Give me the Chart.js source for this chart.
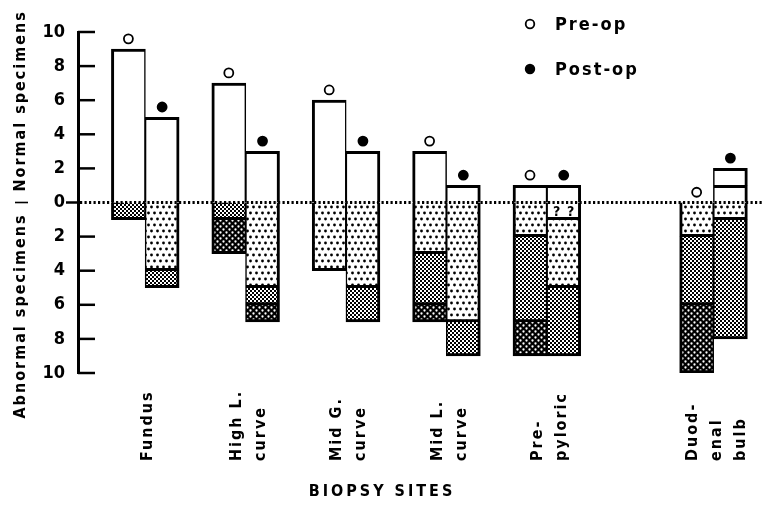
<!DOCTYPE html>
<html>
<head>
<meta charset="utf-8">
<script src="https://cdn.jsdelivr.net/npm/chart.js@4.4.1/dist/chart.umd.min.js"></script>
<style>
  html, body { margin: 0; padding: 0; background: #fff; }
  #wrap { width: 764px; height: 506px; position: relative; }
</style>
</head>
<body>
<div id="wrap"><canvas id="biopsyChart"></canvas></div>
<script>
// biopsy sites along the bottom, and where each pair of bars sits on the x scale
const siteLabels = [['Fundus'], ['High L.', 'curve'], ['Mid G.', 'curve'], ['Mid L.', 'curve'], ['Pre-', 'pyloric'], ['Duod-', 'enal', 'bulb']];
const sitePositions = [0, 1, 2, 3, 4, 5.66];

// number of specimens (of 10) per site, pre-op and post-op
const preNormal = [9, 7, 6, 3, 1, 0];
const postNormal = [5, 3, 3, 1, 1, 1];
const postNormalUpper = [0, 0, 0, 0, 0, 1];
const postUnknown = [0, 0, 0, 0, 1, 0];
const preUnknown = [0, 0, 0, 0, 0, 0];
const preDotted = [0, 0, 4, 3, 2, 2];
const postDotted = [4, 5, 5, 7, 4, 1];
const preFine = [1, 1, 0, 3, 5, 4];
const postFine = [1, 1, 2, 2, 4, 7];
const preCoarse = [0, 2, 0, 1, 2, 4];
const postCoarse = [0, 1, 0, 0, 0, 0];

const legendItems = ['Pre-op', 'Post-op'];

const HALF_BAR = 0.168;
const MARKER_GAP = 0.6;
const FONT = "'DejaVu Sans Condensed', 'DejaVu Sans', sans-serif";

function makePattern(kind) {
    const c = document.createElement('canvas');
    const g = c.getContext('2d');
    if (kind === 'dots') {
        c.width = 6; c.height = 12;
        g.fillStyle = '#fff'; g.fillRect(0, 0, 6, 12);
        g.fillStyle = '#000';
        [[1.5, 3], [4.5, 9]].forEach(([x, y]) => { g.beginPath(); g.arc(x, y, 1.4, 0, Math.PI * 2); g.fill(); });
    } else if (kind === 'fine') {
        c.width = 4; c.height = 4;
        g.fillStyle = '#fff'; g.fillRect(0, 0, 4, 4);
        g.fillStyle = '#000';
        g.fillRect(0, 0, 2, 2);
        g.fillRect(2, 2, 2, 2);
    } else {
        c.width = 6; c.height = 6;
        g.fillStyle = '#000'; g.fillRect(0, 0, 6, 6);
        g.fillStyle = '#fff';
        [[1.5, 1.5], [4.5, 4.5]].forEach(([x, y]) => { g.beginPath(); g.arc(x, y, 1.15, 0, Math.PI * 2); g.fill(); });
    }
    return g.createPattern(c, 'repeat');
}

function barPoints(preValues, postValues, sign) {
    const points = [];
    sitePositions.forEach((pos, i) => {
        if (preValues[i]) points.push({ x: pos - HALF_BAR, y: sign * preValues[i], side: 'pre' });
        if (postValues[i]) points.push({ x: pos + HALF_BAR, y: sign * postValues[i], side: 'post' });
    });
    return points;
}

function barBorder(ctx) {
    if (ctx.raw && ctx.raw.side === 'pre') return { top: 3, bottom: 3, left: 3, right: 1.5 };
    return { top: 3, bottom: 3, left: 1.5, right: 3 };
}

function barDataset(label, data, fill) {
    return {
        type: 'bar',
        label: label,
        data: data,
        backgroundColor: fill,
        borderColor: '#000',
        borderWidth: barBorder,
        borderSkipped: 'start',
        barThickness: 34,
        stack: 'bars'
    };
}

function markerDataset(label, data, fill, stack) {
    return {
        type: 'line',
        label: label,
        data: data,
        showLine: false,
        pointRadius: 4.5,
        pointBackgroundColor: fill,
        pointBorderColor: '#000',
        pointBorderWidth: 1.8,
        stack: stack
    };
}

const drawings = {
    id: 'drawings',
    afterDatasetsDraw(chart) {
        const ctx = chart.ctx;
        const y0 = chart.scales.y.getPixelForValue(0);
        ctx.save();
        // dotted zero line
        ctx.strokeStyle = '#000';
        ctx.lineWidth = 2.8;
        ctx.setLineDash([2.2, 2.3]);
        ctx.beginPath();
        ctx.moveTo(chart.chartArea.left + 2, y0);
        ctx.lineTo(chart.width, y0);
        ctx.stroke();
        ctx.setLineDash([]);
        // question marks in the unknown segment
        const meta = chart.getDatasetMeta(2);
        ctx.fillStyle = '#000';
        ctx.font = 'bold 14px ' + FONT;
        ctx.textAlign = 'center';
        ctx.textBaseline = 'middle';
        meta.data.forEach(bar => {
            const my = (bar.y + bar.base) / 2 + 1;
            ctx.fillText('?', bar.x - 7, my);
            ctx.fillText('?', bar.x + 7, my);
        });
        ctx.restore();
    },
    afterDraw(chart) {
        const ctx = chart.ctx;
        const yScale = chart.scales.y;
        const xScale = chart.scales.x;
        const left = chart.chartArea.left;
        const y0 = yScale.getPixelForValue(0);
        ctx.save();
        ctx.strokeStyle = '#000';
        ctx.fillStyle = '#000';
        // tick marks pointing into the plot
        ctx.lineWidth = 2.5;
        yScale.ticks.forEach(t => {
            const py = yScale.getPixelForValue(t.value);
            ctx.beginPath();
            if (t.value === 0) { ctx.moveTo(left - 12, py); ctx.lineTo(left, py); }
            else { ctx.moveTo(left, py); ctx.lineTo(left + 17, py); }
            ctx.stroke();
        });

        ctx.letterSpacing = '2px';
        // y axis title, with the bar between the halves
        ctx.font = 'bold 16px ' + FONT;
        ctx.textBaseline = 'middle';
        ctx.save();
        ctx.translate(21, y0);
        ctx.rotate(-Math.PI / 2);
        ctx.textAlign = 'left';
        ctx.fillText('Normal specimens', 11, 0);
        ctx.textAlign = 'right';
        ctx.fillText('Abnormal specimens', -11, 0);
        ctx.restore();
        ctx.lineWidth = 1.6;
        ctx.beginPath();
        ctx.moveTo(15, y0);
        ctx.lineTo(28, y0);
        ctx.stroke();

        // site labels, rotated
        siteLabels.forEach((lines, i) => {
            const cx = xScale.getPixelForValue(sitePositions[i]) + 3;
            lines.forEach((line, j) => {
                const lx = cx + (j - (lines.length - 1) / 2) * 24;
                ctx.save();
                ctx.translate(lx, 461);
                ctx.rotate(-Math.PI / 2);
                ctx.textAlign = 'left';
                ctx.fillText(line, 0, 0);
                ctx.restore();
            });
        });

        // axis title
        ctx.letterSpacing = '3px';
        ctx.textAlign = 'center';
        ctx.fillText('BIOPSY SITES', 382, 492);

        // legend
        ctx.letterSpacing = '2px';
        ctx.font = 'bold 18px ' + FONT;
        ctx.textAlign = 'left';
        ctx.lineWidth = 1.8;
        legendItems.forEach((text, i) => {
            const ly = 24 + i * 45;
            ctx.beginPath();
            ctx.arc(530, ly, 4.3, 0, Math.PI * 2);
            ctx.fillStyle = i === 0 ? '#fff' : '#000';
            ctx.fill();
            ctx.stroke();
            ctx.fillStyle = '#000';
            ctx.fillText(text, 555, ly + 1);
        });
        ctx.restore();
    }
};

function renderBiopsyChart() {
    const dots = makePattern('dots');
    const fine = makePattern('fine');
    const coarse = makePattern('coarse');

    const preMarkers = sitePositions.map((pos, i) => ({ x: pos - HALF_BAR, y: preNormal[i] + MARKER_GAP }));
    const postMarkers = sitePositions.map((pos, i) => ({ x: pos + HALF_BAR, y: postNormal[i] + postNormalUpper[i] + MARKER_GAP }));

    new Chart(document.getElementById('biopsyChart'), {
        type: 'bar',
        data: {
            datasets: [
                barDataset('Normal', barPoints(preNormal, postNormal, 1), '#fff'),
                barDataset('Normal (upper)', barPoints([0, 0, 0, 0, 0, 0], postNormalUpper, 1), '#fff'),
                barDataset('Unknown', barPoints(preUnknown, postUnknown, -1), '#fff'),
                barDataset('Dotted', barPoints(preDotted, postDotted, -1), dots),
                barDataset('Fine', barPoints(preFine, postFine, -1), fine),
                barDataset('Coarse', barPoints(preCoarse, postCoarse, -1), coarse),
                markerDataset('Pre-op', preMarkers, '#fff', 'pre'),
                markerDataset('Post-op', postMarkers, '#000', 'post')
            ]
        },
        options: {
            responsive: true,
            maintainAspectRatio: false,
            animation: false,
            layout: { padding: { top: 32, bottom: 133, left: 0, right: 0 } },
            plugins: { legend: { display: false }, tooltip: { enabled: false } },
            scales: {
                x: {
                    type: 'linear',
                    min: -0.67,
                    max: 6.1,
                    offset: false,
                    stacked: true,
                    display: false
                },
                y: {
                    min: -10,
                    max: 10,
                    stacked: true,
                    afterFit: s => { s.width = 78; },
                    grid: { display: false, drawTicks: false },
                    border: { display: true, width: 3, color: '#000' },
                    ticks: {
                        stepSize: 2,
                        padding: 13,
                        color: '#000',
                        font: { family: FONT, size: 18, weight: 'bold' },
                        callback: v => Math.abs(v)
                    }
                }
            }
        },
        plugins: [drawings]
    });
}

document.addEventListener('DOMContentLoaded', () => {
    renderBiopsyChart();
});
</script>
</body>
</html>
